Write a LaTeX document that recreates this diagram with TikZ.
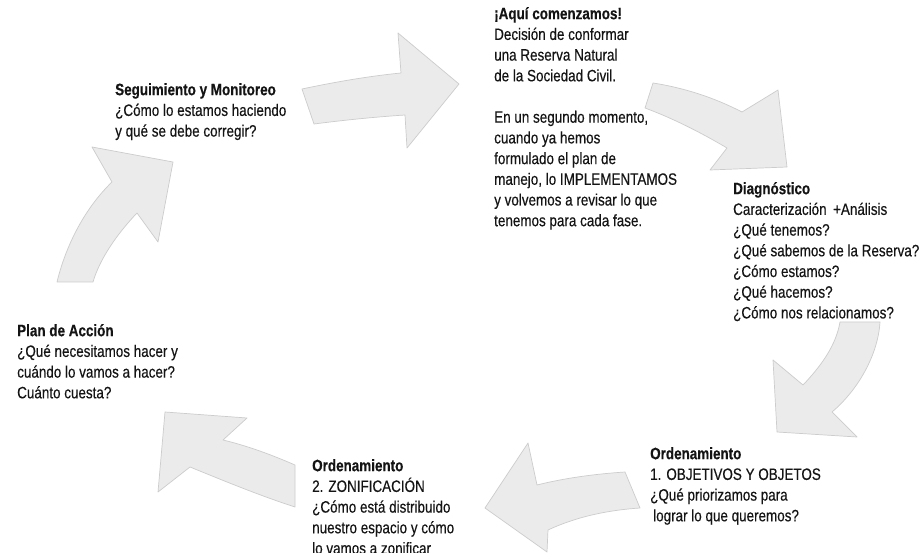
\documentclass[tikz,border=0pt]{standalone}
\usepackage{fontspec}
\setmainfont{Liberation Sans}[FakeStretch=0.815,FakeBold=0.35]
\newcommand{\fl}{\rule{0pt}{14pt}}
\begin{document}
\begin{tikzpicture}[x=1pt,y=-1pt,
  txt/.style={anchor=north west,inner sep=0pt,align=left,
    font=\fontsize{16.5}{20.7}\selectfont,text=black!92},
  bigarrow/.style={fill=black!8,draw=black!20,line width=0.7pt,line join=round}]
\useasboundingbox (0,0) rectangle (922,553);
\clip (0,0) rectangle (922,553);
\fill[white] (0,0) rectangle (922,553);

% arrows
\path[bigarrow] (302,89) .. controls (335,82) and (370,76) .. (401,73) -- (398,33) -- (459,84) -- (407,148) -- (405,115) .. controls (375,117) and (345,120) .. (314,124) -- cycle;
\path[bigarrow] (653,83) .. controls (685,88) and (715,98) .. (742,112) -- (778,90) -- (787,167) -- (710,170) -- (727,148) .. controls (700,132) and (672,118) .. (645,108) -- cycle;
\path[bigarrow] (840,322) -- (880,322) .. controls (878,355) and (858,390) .. (832,412) -- (857,437) -- (777,432) -- (773,360) -- (803,385) .. controls (822,365) and (836,345) .. (840,322) -- cycle;
\path[bigarrow] (485,508) -- (528,443) -- (537,485) .. controls (565,478) and (595,474) .. (625,472) -- (640,508) .. controls (610,510) and (578,516) .. (548,530) -- (547,552) -- cycle;
\path[bigarrow] (165,412) -- (247,418) -- (223,440) .. controls (248,446) and (272,455) .. (295,465) -- (295,507) .. controls (258,495) and (222,480) .. (190,467) -- (158,492) -- cycle;
\path[bigarrow] (92,147) -- (173,162) -- (158,242) -- (137,213) .. controls (118,233) and (100,258) .. (93,282) -- (57,282) .. controls (66,245) and (85,208) .. (112,182) -- cycle;

% texts
\node[txt] (seg) at (115,81) {\fl\textbf{Seguimiento y Monitoreo}\\¿Cómo lo estamos haciendo\\y qué se debe corregir?};
\node[txt] (aqui) at (494,5) {\fl\textbf{¡Aquí comenzamos!}\\Decisión de conformar\\una Reserva Natural\\de la Sociedad Civil.\\[20.7pt]En un segundo momento,\\cuando ya hemos\\formulado el plan de\\manejo, lo IMPLEMENTAMOS\\y volvemos a revisar lo que\\tenemos para cada fase.};
\node[txt] (diag) at (733,180) {\fl\textbf{Diagnóstico}\\Caracterización \,+Análisis\\¿Qué tenemos?\\¿Qué sabemos de la Reserva?\\¿Cómo estamos?\\¿Qué hacemos?\\¿Cómo nos relacionamos?};
\node[txt] (plan) at (17,322) {\fl\textbf{Plan de Acción}\\¿Qué necesitamos hacer y\\cuándo lo vamos a hacer?\\Cuánto cuesta?};
\node[txt] (ordz) at (312,457) {\fl\textbf{Ordenamiento}\\2. ZONIFICACIÓN\\¿Cómo está distribuido\\nuestro espacio y cómo\\lo vamos a zonificar};
\node[txt] (ordo) at (650,445) {\fl\textbf{Ordenamiento}\\1. OBJETIVOS Y OBJETOS\\¿Qué priorizamos para\\\hspace*{3pt}lograr lo que queremos?};
\end{tikzpicture}
\end{document}
